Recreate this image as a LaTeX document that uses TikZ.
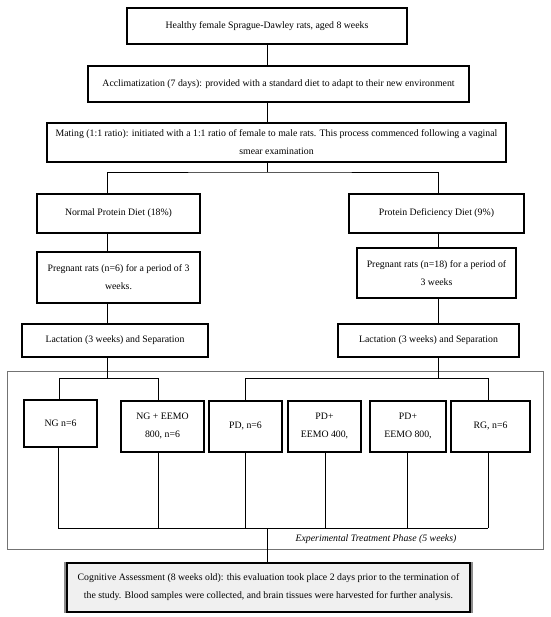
\documentclass[tikz,border=0pt]{standalone}
\usepackage{fontspec}
\setmainfont{Liberation Serif}
\begin{document}
\begin{tikzpicture}[x=1pt,y=-1pt,
  box/.style={draw, line width=1.8pt, inner sep=0pt, align=center,
    font=\fontsize{9.8}{18}\selectfont},
  conn/.style={line width=0.9pt},
  phasebox/.style={draw=black!55, line width=0.9pt, inner sep=0pt},
  phaselabel/.style={inner sep=0pt, font=\fontsize{9.8}{12}\selectfont\itshape}]
\useasboundingbox (0,0) rectangle (550,617);

% outer phase frame
\node[phasebox, minimum width=536pt, minimum height=178pt] (phase) at (275,460) {};
\node[phaselabel] (phasetxt) at (376,539) {Experimental Treatment Phase (5 weeks)};

% main chain
\node[box, minimum width=280pt, minimum height=36pt] (b1) at (267,26)
  {Healthy female Sprague-Dawley rats, aged 8 weeks};
\node[box, minimum width=381pt, minimum height=36pt] (b2) at (278.5,84)
  {Acclimatization (7 days): provided with a standard diet to adapt to their new environment};
\node[box, minimum width=459pt, minimum height=39pt] (b3) at (276.5,142.5)
  {Mating (1:1 ratio): initiated with a 1:1 ratio of female to male rats. This process commenced following a vaginal\\smear examination};

\node[box, minimum width=163pt, minimum height=39pt] (npd) at (118.5,213.5) {Normal Protein Diet (18\%)};
\node[box, minimum width=175pt, minimum height=39pt] (pdd) at (436.5,213.5) {Protein Deficiency Diet (9\%)};
\node[box, minimum width=163pt, minimum height=51pt] (pregL) at (118.5,277.5) {Pregnant rats (n=6) for a period of 3\\weeks.};
\node[box, minimum width=159pt, minimum height=50pt] (pregR) at (436.5,273) {Pregnant rats (n=18) for a period of\\3 weeks};
\node[box, minimum width=186pt, minimum height=33pt] (lacL) at (115,340.5) {Lactation (3 weeks) and Separation};
\node[box, minimum width=181pt, minimum height=33pt] (lacR) at (428.5,340.5) {Lactation (3 weeks) and Separation};

% groups
\node[box, minimum width=73pt, minimum height=47pt] (ng) at (60.5,423.5) {NG n=6};
\node[box, minimum width=83pt, minimum height=51pt] (nge) at (162.5,426.5) {NG + EEMO\\800, n=6};
\node[box, minimum width=73pt, minimum height=51pt] (pd) at (245.5,426.5) {PD, n=6};
\node[box, minimum width=73pt, minimum height=51pt] (pdA) at (324.5,426.5) {PD+\\EEMO 400,};
\node[box, minimum width=76pt, minimum height=51pt] (pdB) at (408,426.5) {PD+\\EEMO 800,};
\node[box, minimum width=79pt, minimum height=51pt] (rg) at (490.5,426.5) {RG, n=6};

% final assessment
\fill[black!45] (63.5,561.5) rectangle (472.5,612.5);
\node[box, fill=black!6, line width=1.9pt, minimum width=403pt, minimum height=49pt] (cog) at (268.5,587.5)
  {Cognitive Assessment (8 weeks old): this evaluation took place 2 days prior to the termination of\\the study. Blood samples were collected, and brain tissues were harvested for further analysis.};

% connector guide coordinates
\coordinate (xm) at (267,0);
\coordinate (xl) at (107,0);
\coordinate (xr) at (438,0);
\coordinate (s1) at (267,172);
\coordinate (t1) at (59,378);
\coordinate (t2) at (158,378);
\coordinate (t3) at (245,378);
\coordinate (t4) at (488,378);
\coordinate (u1) at (58,528);
\coordinate (u2) at (158,528);
\coordinate (u3) at (245,528);
\coordinate (u4) at (325,528);
\coordinate (u5) at (407,528);
\coordinate (u6) at (488,528);

% connectors
\draw[conn] (b1.south -| xm) -- (b2.north -| xm);
\draw[conn] (b2.south -| xm) -- (b3.north -| xm);
\draw[conn] (b3.south -| xm) -- (s1);
\draw[conn] (npd.north -| xl) |- (s1) -| (pdd.north -| xr);
\draw[conn] (npd.south -| xl) -- (pregL.north -| xl);
\draw[conn] (pregL.south -| xl) -- (lacL.north -| xl);
\draw[conn] (pdd.south -| xr) -- (pregR.north -| xr);
\draw[conn] (pregR.south -| xr) -- (lacR.north -| xr);

\draw[conn] (lacL.south -| xl) -- (xl |- t1);
\draw[conn] (ng.north -| t1) -- (t1) -- (t2) -- (nge.north -| t2);
\draw[conn] (lacR.south -| xr) -- (xr |- t3);
\draw[conn] (pd.north -| t3) -- (t3) -- (t4) -- (rg.north -| t4);

\draw[conn] (ng.south -| u1) -- (u1);
\draw[conn] (nge.south -| u2) -- (u2);
\draw[conn] (pd.south -| u3) -- (u3);
\draw[conn] (pdA.south -| u4) -- (u4);
\draw[conn] (pdB.south -| u5) -- (u5);
\draw[conn] (rg.south -| u6) -- (u6);
\draw[conn] (u1) -- (u6);
\draw[conn] (xm |- u1) -- (cog.north -| xm);
\end{tikzpicture}
\end{document}
